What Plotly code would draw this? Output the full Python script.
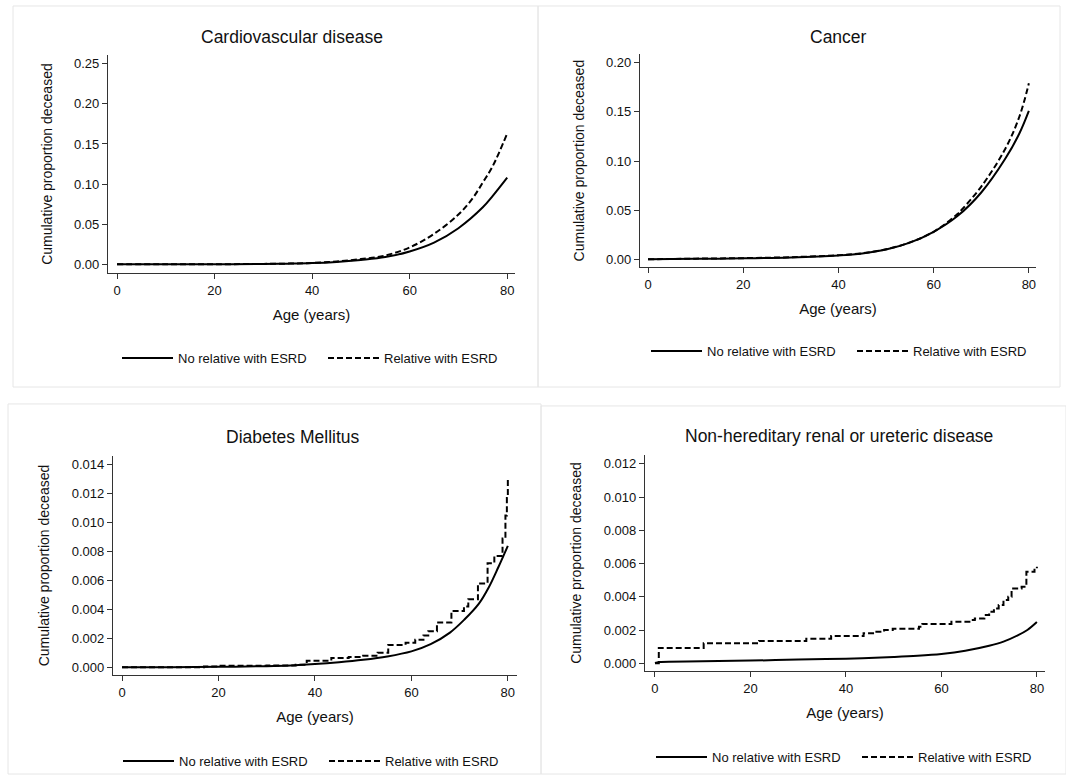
import plotly.graph_objects as go

W, H = 1066, 776
FONT = "Liberation Sans, Arial, sans-serif"

# ---------------- data ----------------
titles = ["Cardiovascular disease", "Cancer", "Diabetes Mellitus",
          "Non-hereditary renal or ureteric disease"]
series_names = ["No relative with ESRD", "Relative with ESRD"]
x_title = "Age (years)"
y_title = "Cumulative proportion deceased"
x_ticks = [0, 20, 40, 60, 80]

cvd_age_no = [0, 10, 20, 30, 35, 40, 45, 50, 55, 60, 65, 70, 75, 77, 80]
cvd_no = [0.0, 0.0, 0.0001, 0.0004, 0.0008, 0.0015, 0.003, 0.0055, 0.009, 0.016, 0.027, 0.045, 0.071, 0.085, 0.108]
cvd_age_yes = [0, 10, 20, 30, 35, 40, 45, 50, 55, 60, 65, 70, 73, 75, 77, 80]
cvd_yes = [0.0, 0.0, 0.0001, 0.0005, 0.0009, 0.0017, 0.0035, 0.0065, 0.011, 0.021, 0.038, 0.062, 0.083, 0.102, 0.122, 0.163]

cancer_age_no = [0, 10, 20, 30, 40, 45, 50, 55, 60, 65, 70, 75, 78, 80]
cancer_no = [0.0, 0.0005, 0.001, 0.002, 0.004, 0.006, 0.010, 0.017, 0.028, 0.044, 0.068, 0.102, 0.128, 0.151]
cancer_age_yes = [0, 10, 20, 30, 40, 45, 50, 55, 60, 65, 66, 70, 75, 78, 80]
cancer_yes = [0.0, 0.0007, 0.0012, 0.0022, 0.0042, 0.0062, 0.0102, 0.0172, 0.028, 0.046, 0.051, 0.074, 0.112, 0.145, 0.179]

dm_age_no = [0, 10, 20, 30, 35, 40, 45, 50, 55, 60, 64, 68, 71, 74, 76, 78, 80]
dm_no = [0.0, 0.00001, 0.00003, 0.00008, 0.00013, 0.00022, 0.00035, 0.00052, 0.00075, 0.0011,
         0.0016, 0.0024, 0.0033, 0.0044, 0.0055, 0.0069, 0.0084]
dm_age_yes = [0, 17, 20, 25, 30, 36, 38.3, 43.4, 47, 50, 53, 55.2, 58.8, 60.8, 62.5, 63.5, 65.3,
              68.3, 70.9, 71.8, 73.8, 75.8, 77.2, 78.9, 79.5, 79.8, 80]
dm_yes = [0.0, 0.00005, 0.0001, 0.0001, 0.00012, 0.00018, 0.00045, 0.00065, 0.00072, 0.0008, 0.001,
          0.00155, 0.0017, 0.0019, 0.0022, 0.0025, 0.0031, 0.0039, 0.0042, 0.0047, 0.0058, 0.0072,
          0.0077, 0.0089, 0.0105, 0.0117, 0.0130]

renal_age_no = [0, 1, 10, 20, 30, 40, 50, 55, 60, 65, 70, 73, 76, 78, 80]
renal_no = [0.00002, 0.00008, 0.00012, 0.00016, 0.00022, 0.00028, 0.00038, 0.00045, 0.00056,
            0.00075, 0.00105, 0.0013, 0.00168, 0.002, 0.00248]
renal_age_yes = [0, 0.8, 10.2, 21.8, 31.7, 36.9, 43.7, 46, 48, 49.8, 55.3, 56, 62.1, 66.2, 67, 69,
                 70, 71, 72, 73, 74, 74.7, 76.8, 77.8, 79.5, 80]
renal_yes = [0.0, 0.00092, 0.0012, 0.00134, 0.00148, 0.00164, 0.0018, 0.0019, 0.002, 0.00208,
             0.0022, 0.00237, 0.0025, 0.0026, 0.0027, 0.0029, 0.0031, 0.0033, 0.0035, 0.0038,
             0.0040, 0.0045, 0.0046, 0.0055, 0.0057, 0.0058]

panels_data = [
    (cvd_age_no, cvd_no, cvd_age_yes, cvd_yes, "spline", "spline"),
    (cancer_age_no, cancer_no, cancer_age_yes, cancer_yes, "spline", "spline"),
    (dm_age_no, dm_no, dm_age_yes, dm_yes, "spline", "hv"),
    (renal_age_no, renal_no, renal_age_yes, renal_yes, "spline", "hv"),
]

y_ticks = [
    [0, 0.05, 0.10, 0.15, 0.20, 0.25],
    [0, 0.05, 0.10, 0.15, 0.20],
    [0, 0.002, 0.004, 0.006, 0.008, 0.010, 0.012, 0.014],
    [0, 0.002, 0.004, 0.006, 0.008, 0.010, 0.012],
]
y_fmt = [".2f", ".2f", ".3f", ".3f"]

# ---------------- layout geometry (pixels) ----------------
geo = [
    dict(l=108, r=515, t=55, b=274, xr=[-1.85, 81.6], yr=[-0.0112, 0.261]),
    dict(l=640, r=1036, t=54, b=268, xr=[-1.68, 81.5], yr=[-0.0081, 0.209]),
    dict(l=113, r=517, t=457, b=677, xr=[-1.87, 81.9], yr=[-0.00055, 0.01462]),
    dict(l=645, r=1045, t=456, b=673, xr=[-2.09, 81.7], yr=[-0.00048, 0.01254]),
]
title_pos = [(292, 37), (838, 37), (293, 438), (839, 437)]
legend_pos = [(117, 359), (646, 352), (118, 763), (651, 759)]
boxes = [(13, 6, 538, 388), (538, 6, 1060, 388), (8, 405, 541, 776), (541, 407, 1066, 776)]


def px(x):
    return x / W


def py(y):
    return 1 - y / H


fig = go.Figure()
layout = dict(
    width=W, height=H, margin=dict(l=0, r=0, t=0, b=0),
    paper_bgcolor="white", plot_bgcolor="white",
    font=dict(family=FONT, color="#111111", size=13),
    annotations=[], shapes=[],
)

for i in range(4):
    g = geo[i]
    ax = "" if i == 0 else str(i + 1)
    leg = "legend" if i == 0 else "legend%d" % (i + 1)
    a_no, v_no, a_yes, v_yes, shp_no, shp_yes = panels_data[i]
    fig.add_trace(go.Scatter(
        x=a_no, y=v_no, mode="lines", name=series_names[0],
        line=dict(color="black", width=2, shape=shp_no),
        xaxis="x" + ax, yaxis="y" + ax, legend=leg, hoverinfo="skip"))
    fig.add_trace(go.Scatter(
        x=a_yes, y=v_yes, mode="lines", name=series_names[1],
        line=dict(color="black", width=2, dash="6px,3px", shape=shp_yes),
        xaxis="x" + ax, yaxis="y" + ax, legend=leg, hoverinfo="skip"))

    layout["xaxis" + ax] = dict(
        domain=[px(g["l"]), px(g["r"])], range=g["xr"], anchor="y" + ax,
        showline=True, linecolor="#333333", linewidth=1.2, showgrid=False, zeroline=False,
        ticks="outside", ticklen=5, tickwidth=1, tickcolor="#333333",
        tickvals=x_ticks, tickfont=dict(size=13, family=FONT, color="#111111"),
        title=dict(text=x_title, font=dict(size=15, family=FONT, color="#111111"), standoff=12),
        fixedrange=True,
    )
    layout["yaxis" + ax] = dict(
        domain=[py(g["b"]), py(g["t"])], range=g["yr"], anchor="x" + ax,
        showline=True, linecolor="#333333", linewidth=1.2, showgrid=False, zeroline=False,
        ticks="outside", ticklen=5, tickwidth=1, tickcolor="#333333",
        tickvals=y_ticks[i], tickformat=y_fmt[i],
        tickfont=dict(size=13, family=FONT, color="#111111"),
        title=dict(text=y_title, font=dict(size=14, family=FONT, color="#111111"), standoff=18),
        fixedrange=True,
    )
    lx, ly = legend_pos[i]
    layout[leg] = dict(
        x=px(lx), y=py(ly), xanchor="left", yanchor="middle",
        orientation="h", itemwidth=51, entrywidth=140,
        font=dict(size=13, family=FONT, color="#111111"),
        bgcolor="rgba(0,0,0,0)", itemclick=False, itemdoubleclick=False,
    )
    tx, ty = title_pos[i]
    layout["annotations"].append(dict(
        text=titles[i], x=px(tx), y=py(ty), xref="paper", yref="paper",
        xanchor="center", yanchor="middle", showarrow=False,
        font=dict(size=17.5, family=FONT, color="#111111")))
    x0, y0, x1, y1 = boxes[i]
    layout["shapes"].append(dict(
        type="rect", xref="paper", yref="paper",
        x0=px(x0), x1=px(x1), y0=py(y1), y1=py(y0),
        line=dict(color="#e6e6e6", width=1), layer="below"))

fig.update_layout(**layout)
fig.write_html(
    "out.html",
    config={"displayModeBar": False},
    post_script="document.body.style.margin='0';document.body.style.overflow='hidden';",
)
